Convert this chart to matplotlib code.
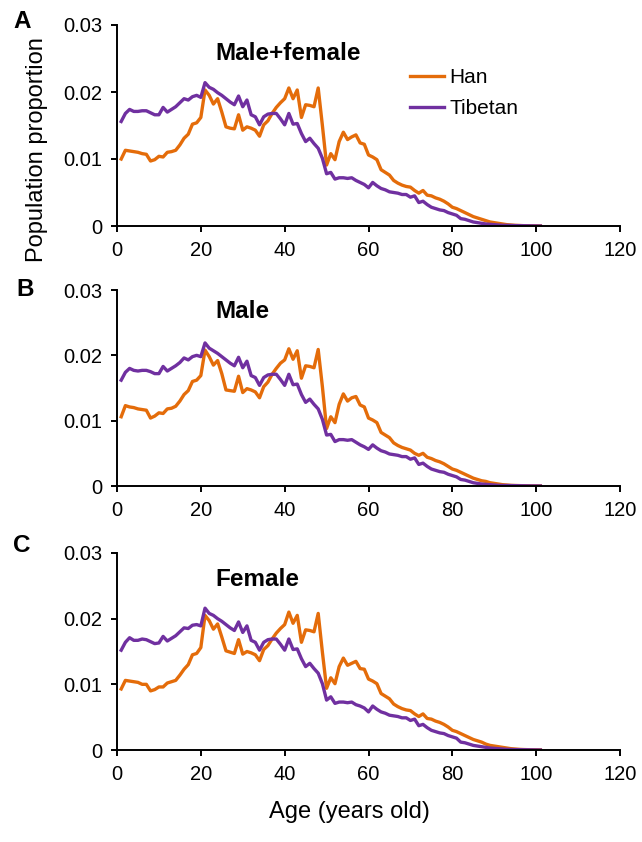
import matplotlib
matplotlib.use("Agg")
import matplotlib.pyplot as plt
import numpy as np

plt.rcParams['font.family'] = ['Liberation Sans', 'DejaVu Sans']

ages = list(range(1, 102))
x_ticks = [0, 20, 40, 60, 80, 100, 120]
y_ticks = [0, 0.01, 0.02, 0.03]
y_tick_labels = ["0", "0.01", "0.02", "0.03"]
series_names = ["Han", "Tibetan"]
panel_titles = ["Male+female", "Male", "Female"]
panel_letters = ["A", "B", "C"]

han_all = [0.0100, 0.0113, 0.0112, 0.0111, 0.0110, 0.0108, 0.0107, 0.0097, 0.0099, 0.0104,
           0.0103, 0.0110, 0.0111, 0.0113, 0.0121, 0.0131, 0.0137, 0.0152, 0.0154, 0.0162,
           0.0203, 0.0195, 0.0182, 0.0190, 0.0170, 0.0148, 0.0146, 0.0145, 0.0166, 0.0143,
           0.0148, 0.0146, 0.0143, 0.0134, 0.0151, 0.0157, 0.0168, 0.0177, 0.0184, 0.0190,
           0.0206, 0.0190, 0.0203, 0.0162, 0.0181, 0.0180, 0.0178, 0.0206, 0.0150, 0.0091,
           0.0108, 0.0099, 0.0126, 0.0140, 0.0129, 0.0133, 0.0136, 0.0124, 0.0122, 0.0106,
           0.0103, 0.0099, 0.0084, 0.0080, 0.0076, 0.0068, 0.0064, 0.0061, 0.0059, 0.0058,
           0.0053, 0.0049, 0.0053, 0.0046, 0.0045, 0.0042, 0.0040, 0.0037, 0.0033, 0.0028,
           0.0026, 0.0023, 0.0020, 0.0017, 0.0014, 0.0012, 0.0010, 0.0008, 0.0006, 0.0005,
           0.0004, 0.0003, 0.0002, 0.00015, 0.0001, 0.00008, 0.00005, 0.00004, 0.00003, 0.00002,
           0.00001]

tib_all = [0.0156, 0.0168, 0.0174, 0.0171, 0.0171, 0.0172, 0.0172, 0.0169, 0.0166, 0.0166,
           0.0177, 0.0170, 0.0174, 0.0178, 0.0184, 0.0190, 0.0188, 0.0193, 0.0195, 0.0192,
           0.0214, 0.0207, 0.0204, 0.0199, 0.0195, 0.0190, 0.0185, 0.0181, 0.0194, 0.0178,
           0.0188, 0.0166, 0.0163, 0.0151, 0.0163, 0.0167, 0.0168, 0.0168, 0.0160, 0.0151,
           0.0168, 0.0152, 0.0153, 0.0138, 0.0126, 0.0131, 0.0123, 0.0116, 0.0101, 0.0078,
           0.0080, 0.0070, 0.0072, 0.0072, 0.0071, 0.0072, 0.0068, 0.0065, 0.0062, 0.0057,
           0.0065, 0.0060, 0.0056, 0.0054, 0.0051, 0.0050, 0.0049, 0.0047, 0.0047, 0.0043,
           0.0045, 0.0035, 0.0037, 0.0032, 0.0028, 0.0026, 0.0024, 0.0023, 0.0020, 0.0018,
           0.0016, 0.0011, 0.0010, 0.0008, 0.0006, 0.0005, 0.0004, 0.0003, 0.00025, 0.0002,
           0.00015, 0.0001, 0.0001, 0.00008, 0.00006, 0.00005, 0.00004, 0.00003, 0.00002, 0.00001,
           0.0]

han_male = [0.0106, 0.0123, 0.0121, 0.0120, 0.0118, 0.0117, 0.0116, 0.0104, 0.0107, 0.0112,
            0.0111, 0.0118, 0.0119, 0.0122, 0.0130, 0.0140, 0.0146, 0.0160, 0.0162, 0.0169,
            0.0208, 0.0198, 0.0185, 0.0192, 0.0172, 0.0147, 0.0146, 0.0145, 0.0168, 0.0143,
            0.0149, 0.0147, 0.0144, 0.0135, 0.0152, 0.0159, 0.0171, 0.0180, 0.0188, 0.0193,
            0.0210, 0.0194, 0.0207, 0.0165, 0.0184, 0.0183, 0.0181, 0.0209, 0.0152, 0.0088,
            0.0106, 0.0097, 0.0125, 0.0141, 0.0130, 0.0135, 0.0137, 0.0124, 0.0121, 0.0104,
            0.0101, 0.0097, 0.0082, 0.0078, 0.0074, 0.0066, 0.0062, 0.0059, 0.0057, 0.0055,
            0.0050, 0.0047, 0.0050, 0.0044, 0.0042, 0.0039, 0.0037, 0.0034, 0.0030, 0.0026,
            0.0024, 0.0021, 0.0018, 0.0015, 0.0012, 0.0010, 0.0008, 0.0007, 0.0005, 0.0004,
            0.0003, 0.0002, 0.00015, 0.0001, 0.00008, 0.00006, 0.00004, 0.00003, 0.00002, 0.00001,
            0.00001]

tib_male = [0.0162, 0.0174, 0.0180, 0.0177, 0.0176, 0.0177, 0.0177, 0.0175, 0.0172, 0.0172,
            0.0183, 0.0176, 0.0180, 0.0184, 0.0189, 0.0196, 0.0193, 0.0198, 0.0200, 0.0198,
            0.0219, 0.0211, 0.0207, 0.0203, 0.0198, 0.0193, 0.0188, 0.0184, 0.0197, 0.0181,
            0.0191, 0.0169, 0.0166, 0.0154, 0.0166, 0.0170, 0.0171, 0.0171, 0.0163, 0.0154,
            0.0171, 0.0155, 0.0156, 0.0140, 0.0128, 0.0133, 0.0125, 0.0118, 0.0102, 0.0078,
            0.0079, 0.0068, 0.0071, 0.0071, 0.0070, 0.0071, 0.0067, 0.0063, 0.0060, 0.0056,
            0.0063, 0.0058, 0.0054, 0.0052, 0.0049, 0.0048, 0.0047, 0.0045, 0.0045, 0.0041,
            0.0043, 0.0033, 0.0035, 0.0030, 0.0026, 0.0024, 0.0022, 0.0021, 0.0018, 0.0016,
            0.0014, 0.0010, 0.0009, 0.0007, 0.0005, 0.0004, 0.0003, 0.00025, 0.0002, 0.00015,
            0.0001, 0.00008, 0.00008, 0.00006, 0.00005, 0.00004, 0.00003, 0.00002, 0.00001, 0.00001,
            0.0]

han_female = [0.0093, 0.0106, 0.0105, 0.0104, 0.0103, 0.0100, 0.0100, 0.0090, 0.0092, 0.0096,
              0.0096, 0.0102, 0.0104, 0.0106, 0.0114, 0.0123, 0.0130, 0.0145, 0.0147, 0.0156,
              0.0205, 0.0197, 0.0184, 0.0192, 0.0172, 0.0151, 0.0149, 0.0147, 0.0168, 0.0146,
              0.0150, 0.0148, 0.0145, 0.0136, 0.0153, 0.0159, 0.0169, 0.0178, 0.0185, 0.0191,
              0.0210, 0.0193, 0.0205, 0.0164, 0.0183, 0.0182, 0.0180, 0.0208, 0.0149, 0.0094,
              0.0110, 0.0101, 0.0127, 0.0140, 0.0129, 0.0132, 0.0135, 0.0124, 0.0123, 0.0108,
              0.0105, 0.0101, 0.0086, 0.0082, 0.0078, 0.0070, 0.0066, 0.0063, 0.0061, 0.0060,
              0.0055, 0.0051, 0.0055, 0.0048, 0.0047, 0.0044, 0.0042, 0.0039, 0.0035, 0.0030,
              0.0028, 0.0025, 0.0022, 0.0019, 0.0016, 0.0014, 0.0012, 0.0009, 0.0007, 0.0006,
              0.0005, 0.0004, 0.0003, 0.0002, 0.00015, 0.0001, 0.00007, 0.00005, 0.00004, 0.00003,
              0.00002]

tib_female = [0.0152, 0.0164, 0.0171, 0.0167, 0.0167, 0.0169, 0.0168, 0.0165, 0.0162, 0.0163,
              0.0173, 0.0166, 0.0170, 0.0174, 0.0180, 0.0186, 0.0185, 0.0190, 0.0191, 0.0189,
              0.0216, 0.0208, 0.0205, 0.0200, 0.0196, 0.0191, 0.0186, 0.0182, 0.0195, 0.0179,
              0.0189, 0.0167, 0.0164, 0.0152, 0.0164, 0.0168, 0.0169, 0.0169, 0.0161, 0.0152,
              0.0169, 0.0153, 0.0154, 0.0139, 0.0127, 0.0132, 0.0124, 0.0117, 0.0101, 0.0076,
              0.0081, 0.0071, 0.0073, 0.0073, 0.0072, 0.0073, 0.0069, 0.0067, 0.0064, 0.0058,
              0.0067, 0.0062, 0.0058, 0.0056, 0.0053, 0.0052, 0.0051, 0.0049, 0.0049, 0.0045,
              0.0047, 0.0037, 0.0039, 0.0034, 0.0030, 0.0028, 0.0026, 0.0025, 0.0022, 0.0020,
              0.0018, 0.0012, 0.0011, 0.0009, 0.0007, 0.0006, 0.0005, 0.0004, 0.0003, 0.00025,
              0.0002, 0.00015, 0.0001, 0.00008, 0.00006, 0.00005, 0.00004, 0.00003, 0.00002, 0.00001,
              0.0]

han_panels = [han_all, han_male, han_female]
tib_panels = [tib_all, tib_male, tib_female]

ORANGE = "#E46C0A"
PURPLE = "#7030A0"

W, H = 642, 842
fig = plt.figure(figsize=(W / 100, H / 100), dpi=100)

# (top_px, bottom_px) of each plotting area
panel_px = [(25, 226), (290, 486), (553, 750)]
left_px, right_px = 117, 620

title_y_px = [53, 312, 580]
letter_pos_px = [(22, 21), (25, 290), (22, 546)]

for i in range(3):
    top, bot = panel_px[i]
    ax = fig.add_axes([left_px / W, 1 - bot / H, (right_px - left_px) / W, (bot - top) / H])
    l1, = ax.plot(ages, han_panels[i], color=ORANGE, lw=2.4, label=series_names[0])
    l2, = ax.plot(ages, tib_panels[i], color=PURPLE, lw=2.4, label=series_names[1])
    ax.set_xlim(0, 120)
    ax.set_ylim(0, 0.03)
    ax.set_xticks(x_ticks)
    ax.set_xticklabels([str(v) for v in x_ticks])
    ax.set_yticks(y_ticks)
    ax.set_yticklabels(y_tick_labels)
    for s in ["top", "right"]:
        ax.spines[s].set_visible(False)
    for s in ["left", "bottom"]:
        ax.spines[s].set_linewidth(1.4)
        ax.spines[s].set_color("black")
    ax.tick_params(direction="out", length=4.5, width=1.4, labelsize=14.5, pad=6)
    ax.tick_params(axis="y", pad=6)
    ax.patch.set_visible(False)

    fig.text(215 / W, 1 - title_y_px[i] / H, panel_titles[i], fontsize=17.5,
             fontweight="bold", ha="left", va="center")
    lx, ly = letter_pos_px[i]
    fig.text(lx / W, 1 - ly / H, panel_letters[i], fontsize=17.5,
             fontweight="bold", ha="center", va="center")

    if i == 0:
        ax.legend(handles=[l1, l2], loc="upper left",
                  bbox_to_anchor=(410 / W, 1 - 68 / H), bbox_transform=fig.transFigure,
                  frameon=False, fontsize=15, handlelength=1.65, handletextpad=0.25,
                  labelspacing=0.6, borderpad=0, borderaxespad=0)

fig.text(37 / W, 1 - 150 / H, "Population proportion", rotation=90,
         fontsize=17, ha="center", va="center")
fig.text(349 / W, 1 - 812 / H, "Age (years old)", fontsize=17,
         ha="center", va="center")

fig.savefig("out.png", dpi=100)
